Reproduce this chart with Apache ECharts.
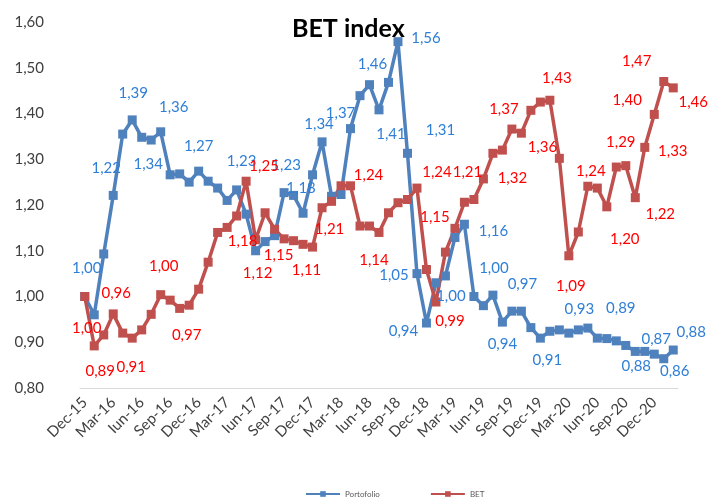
<!DOCTYPE html>
<html><head><meta charset="utf-8">
<script src="https://cdn.jsdelivr.net/npm/echarts@6/dist/echarts.min.js"></script>
<style>html,body{margin:0;padding:0;background:#fff}#c{width:711px;height:499px}</style>
</head><body><div id="c"></div>
<script>
const categories = ['Dec-15',
 'Ian-16','Feb-16','Mar-16','Apr-16','Mai-16','Iun-16','Iul-16','Aug-16','Sep-16','Oct-16','Noi-16','Dec-16',
 'Ian-17','Feb-17','Mar-17','Apr-17','Mai-17','Iun-17','Iul-17','Aug-17','Sep-17','Oct-17','Noi-17','Dec-17',
 'Ian-18','Feb-18','Mar-18','Apr-18','Mai-18','Iun-18','Iul-18','Aug-18','Sep-18','Oct-18','Noi-18','Dec-18',
 'Ian-19','Feb-19','Mar-19','Apr-19','Mai-19','Iun-19','Iul-19','Aug-19','Sep-19','Oct-19','Noi-19','Dec-19',
 'Ian-20','Feb-20','Mar-20','Apr-20','Mai-20','Iun-20','Iul-20','Aug-20','Sep-20','Oct-20','Noi-20','Dec-20',
 'Ian-21','Feb-21'];
const portofolio = [1.00,0.96,1.093,1.221,1.355,1.386,1.348,1.342,1.36,1.266,1.268,1.25,1.274,
 1.252,1.237,1.21,1.233,1.18,1.10,1.12,1.133,1.227,1.221,1.182,1.266,
 1.338,1.219,1.223,1.367,1.439,1.463,1.408,1.468,1.557,1.313,1.05,0.942,
 1.03,1.045,1.129,1.158,1.00,0.98,1.003,0.944,0.968,0.968,0.932,0.909,
 0.924,0.927,0.92,0.927,0.931,0.909,0.908,0.903,0.893,0.88,0.88,0.874,
 0.864,0.883];
const bet = [1.00,0.892,0.916,0.962,0.92,0.909,0.927,0.961,1.004,0.992,0.974,0.981,1.016,
 1.075,1.14,1.151,1.176,1.252,1.124,1.183,1.147,1.126,1.122,1.114,1.108,
 1.194,1.208,1.242,1.242,1.154,1.154,1.14,1.183,1.205,1.212,1.237,1.059,
 0.988,1.097,1.149,1.206,1.212,1.257,1.313,1.32,1.366,1.357,1.407,1.425,
 1.429,1.302,1.089,1.141,1.241,1.237,1.196,1.283,1.286,1.216,1.326,1.398,
 1.47,1.456];
const yTicks = [0.8,0.9,1.0,1.1,1.2,1.3,1.4,1.5,1.6];

// label placement (style only): index -> [dx, dy] offset from the marker
const bluePlace = {0:[2,-28],3:[-7,-27],5:[1,-27],7:[-3,24],8:[13,-25],12:[0,-25],16:[5,-29],21:[2,-27],
 23:[-2,-25],25:[-3,-18],28:[-10,-15],30:[3,-21],31:[12,24],33:[28,-4],34:[33,-23],35:[-23,2],36:[-23,8],
 40:[29,7],41:[-23,0],43:[1,-27],44:[0,22],46:[1,-27],48:[7,22],52:[1,-21],57:[-5,-37],58:[1,15],
 60:[2,-15],61:[11,12],62:[18,-18]};
const redPlace = {0:[2,32],1:[6,25],3:[3,-21],5:[-1,29],8:[3,-29],10:[7,27],16:[6,25],17:[18,-15],18:[2,33],
 20:[4,26],24:[-6,23],26:[-2,28],28:[18,-11],31:[-5,28],35:[20,-16],37:[14,19],39:[-20,-11],40:[3,-30],
 44:[10,28],45:[-8,-20],46:[21,14],49:[7,-22],51:[2,30],53:[3,-15],55:[18,32],57:[-5,-23],58:[25,16],
 59:[28,4],60:[-27,-14],61:[-27,-20],62:[20,14]};

const fmt = v => Number(v).toFixed(2).replace('.', ',');
function build(vals, place, color){
  return vals.map((v,i)=> place[i] ? {value:v, label:{show:true, position:'inside', offset:place[i], color:color,
     fontFamily:'Lato', fontSize:15, formatter:p=>fmt(p.value)}} : v);
}

const chart = echarts.init(document.getElementById('c'), null, {renderer:'canvas'});
chart.setOption({
  animation:false,
  backgroundColor:'#fff',
  title:{text:'BET index', left:287, top:11, textStyle:{fontFamily:'Lato', fontWeight:'bold', fontSize:25, color:'#000'}},
  grid:{left:80, right:33, top:22, bottom:111},
  legend:{left:300, top:485, itemWidth:34, itemHeight:7, itemGap:50,
    textStyle:{fontFamily:'Lato', fontSize:8, color:'#595959'},
    data:['Portofolio','BET']},
  xAxis:{type:'category', data:categories, boundaryGap:true,
    axisLine:{show:true, lineStyle:{color:'#d9d9d9', width:1}},
    axisTick:{show:false},
    axisLabel:{interval:2, rotate:45, margin:12, fontFamily:'Lato', fontSize:15, color:'#404040'}},
  yAxis:{type:'value', min:yTicks[0], max:yTicks[yTicks.length-1], interval:0.1,
    axisLine:{show:false}, axisTick:{show:false}, splitLine:{show:false},
    axisLabel:{margin:36, fontFamily:'Lato', fontSize:15, color:'#404040', formatter:fmt}},
  series:[
    {name:'Portofolio', type:'line', data:build(portofolio, bluePlace, '#2f7fd6'),
     symbol:'rect', symbolSize:9, showAllSymbol:true, lineStyle:{width:3.5, color:'#4f81bd'},
     itemStyle:{color:'#4f81bd'}, label:{show:false}},
    {name:'BET', type:'line', data:build(bet, redPlace, '#ff0000'),
     symbol:'rect', symbolSize:9, showAllSymbol:true, lineStyle:{width:3.5, color:'#c0504d'},
     itemStyle:{color:'#c0504d'}, label:{show:false}}
  ]
});
</script></body></html>
